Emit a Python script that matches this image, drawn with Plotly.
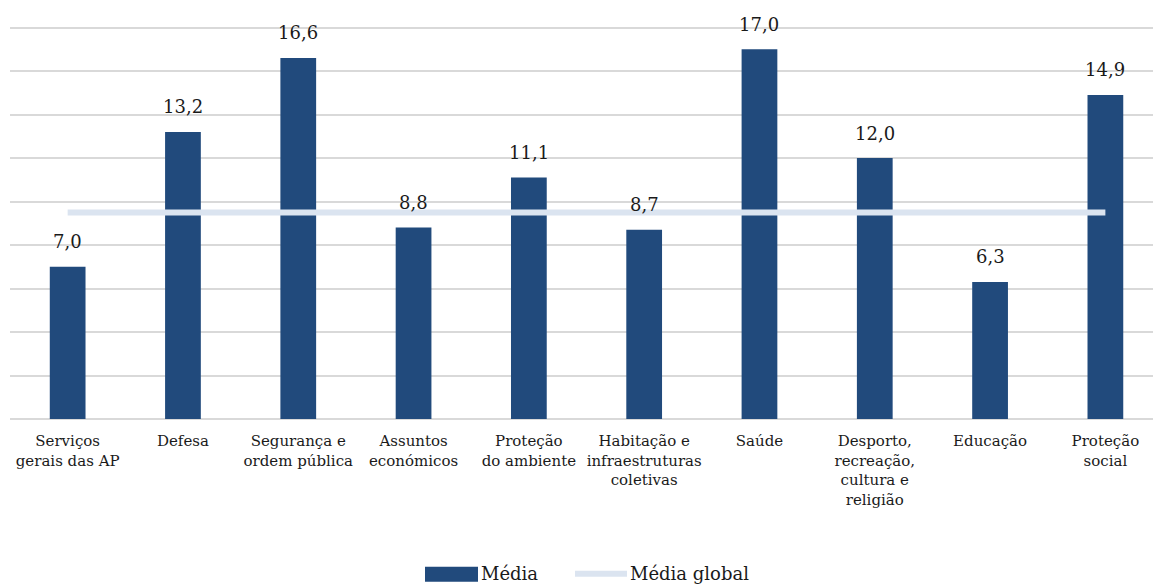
import plotly.graph_objects as go

categories = [
    "Serviços<br>gerais das AP",
    "Defesa",
    "Segurança e<br>ordem pública",
    "Assuntos<br>económicos",
    "Proteção<br>do ambiente",
    "Habitação e<br>infraestruturas<br>coletivas",
    "Saúde",
    "Desporto,<br>recreação,<br>cultura e<br>religião",
    "Educação",
    "Proteção<br>social",
]
media = [7.0, 13.2, 16.6, 8.8, 11.1, 8.7, 17.0, 12.0, 6.3, 14.9]
media_global = 9.5

BAR = "#214a7c"
LINE = "#dbe4f0"
FONT = "DejaVu Serif"
INK = "#1a1a1a"

fig = go.Figure()
fig.add_trace(go.Bar(
    x=categories, y=media, name="Média",
    marker=dict(color=BAR, line=dict(width=0)),
    width=0.31, showlegend=False,
))
fig.add_trace(go.Scatter(
    x=categories, y=[media_global] * len(categories), name="Média global",
    mode="lines", line=dict(color=LINE, width=6), showlegend=False,
))

# value labels above each bar
for c, v in zip(categories, media):
    fig.add_annotation(
        x=c, y=v, text=f"{v:.1f}".replace(".", ","), showarrow=False,
        yanchor="middle", yshift=25,
        font=dict(family=FONT, size=18, color=INK),
    )

# legend drawn below the plot
PW, PH, X0, Y0 = 1143, 398, 10, 419.3
fig.add_shape(type="rect", xref="paper", yref="paper",
              x0=(425 - X0) / PW, x1=(478 - X0) / PW,
              y0=(Y0 - 582) / PH, y1=(Y0 - 567) / PH,
              fillcolor=BAR, line=dict(width=0))
fig.add_annotation(xref="paper", yref="paper", x=(479 - X0) / PW, y=(Y0 - 574) / PH,
                   xanchor="left", yanchor="middle", text="Média", showarrow=False,
                   font=dict(family=FONT, size=18, color=INK))
fig.add_shape(type="line", xref="paper", yref="paper",
              x0=(575 - X0) / PW, x1=(627 - X0) / PW,
              y0=(Y0 - 574) / PH, y1=(Y0 - 574) / PH,
              line=dict(color=LINE, width=6))
fig.add_annotation(xref="paper", yref="paper", x=(628 - X0) / PW, y=(Y0 - 574) / PH,
                   xanchor="left", yanchor="middle", text="Média global", showarrow=False,
                   font=dict(family=FONT, size=18, color=INK))

fig.update_layout(
    width=1153, height=586,
    margin=dict(l=10, r=0, t=21, b=167),
    paper_bgcolor="white", plot_bgcolor="white",
    font=dict(family=FONT, size=15, color=INK),
    bargap=0.69,
)
fig.update_xaxes(
    type="category", range=[-0.5, 9.413],
    showgrid=False, showline=False, ticks="",
    ticklabelstandoff=11,
    tickfont=dict(family=FONT, size=15, color=INK),
)
fig.update_yaxes(
    range=[0, 18.3], tick0=0, dtick=2, showgrid=True, gridcolor="#d9d9d9", gridwidth=1.5,
    zeroline=True, zerolinecolor="#d9d9d9", zerolinewidth=1.5,
    showticklabels=False, ticks="",
)

fig.write_html("out.html")
